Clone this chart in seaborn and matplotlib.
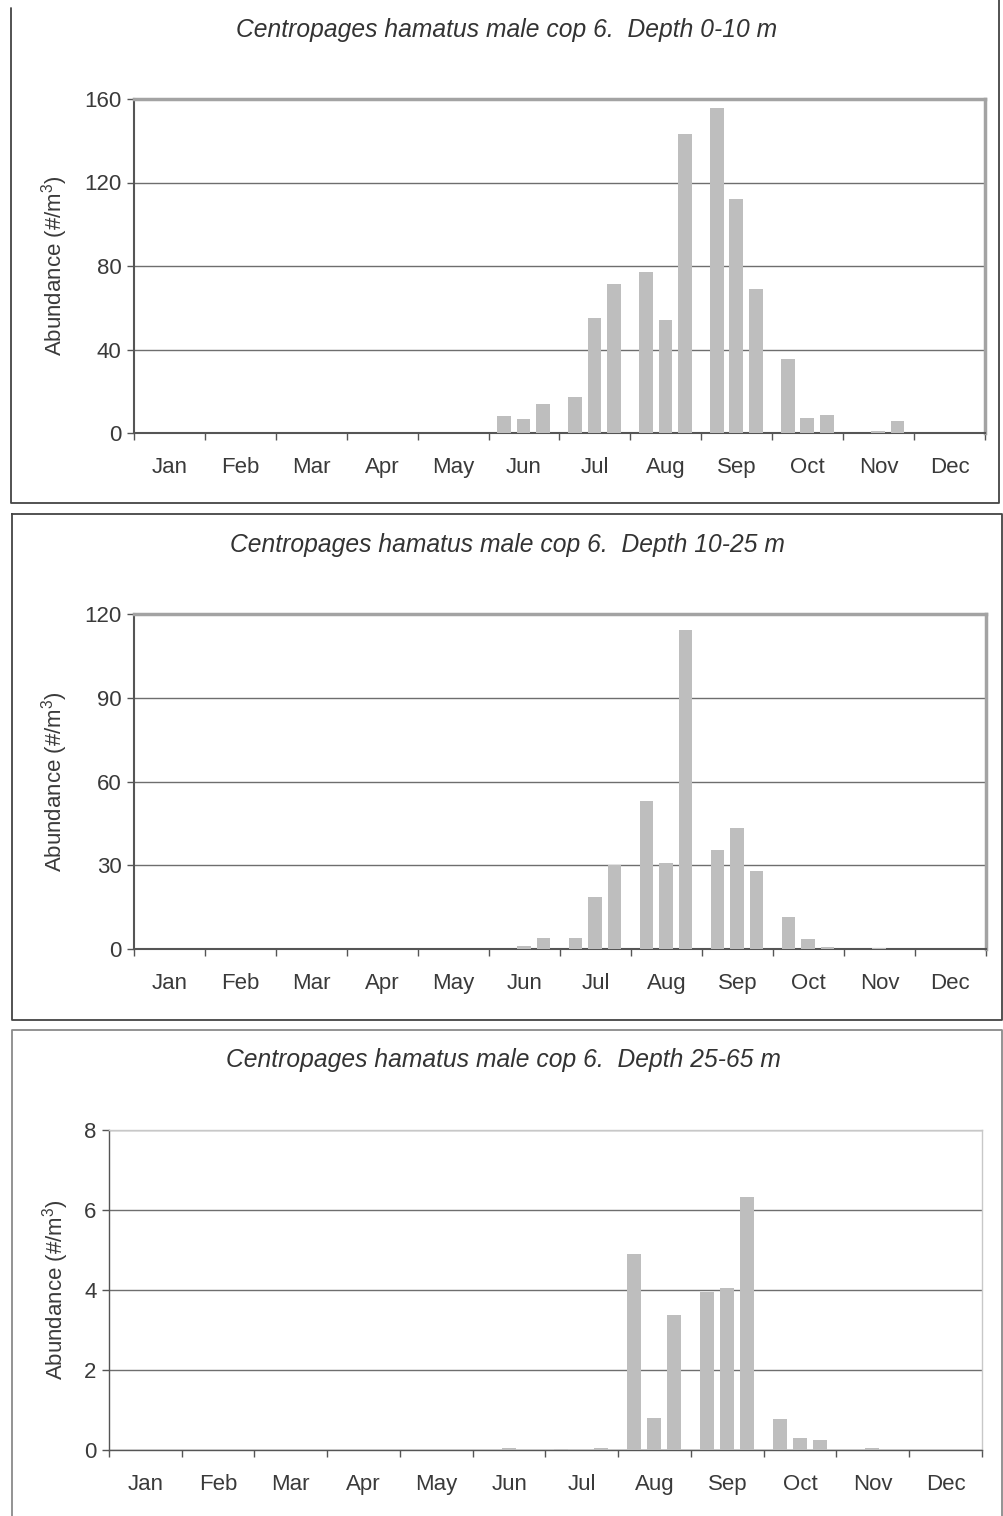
import numpy as np
import pandas as pd
import matplotlib
matplotlib.use("Agg")
import matplotlib.pyplot as plt
from matplotlib.lines import Line2D
import seaborn as sns

# ---------------- data ----------------
months = ["Jan", "Feb", "Mar", "Apr", "May", "Jun",
          "Jul", "Aug", "Sep", "Oct", "Nov", "Dec"]
# three sampling dates per month, as a fraction of the month
sample_frac = [0.218, 0.493, 0.768]

# abundance (#/m3), 3 samples per month, Jan..Dec
depth_0_10 = [0, 0, 0,  0, 0, 0,  0, 0, 0,  0, 0, 0,  0, 0, 0,
              8.3, 6.9, 13.9,
              17.3, 55.0, 71.6,
              77.2, 54.3, 143.4,
              155.9, 112.3, 69.2,
              35.6, 7.1, 8.5,
              0, 1.1, 5.9,
              0, 0, 0]
depth_10_25 = [0, 0, 0,  0, 0, 0,  0, 0, 0,  0, 0, 0,  0, 0, 0,
               0, 1.1, 3.9,
               3.9, 18.7, 30.1,
               52.9, 30.9, 114.3,
               35.5, 43.3, 27.9,
               11.3, 3.7, 0.7,
               0, 0.5, 0,
               0, 0, 0]
depth_25_65 = [0, 0, 0,  0, 0, 0,  0, 0, 0,  0, 0, 0,  0, 0, 0,
               0, 0.04, 0,
               0.02, 0, 0.04,
               4.91, 0.80, 3.38,
               3.94, 4.04, 6.32,
               0.78, 0.30, 0.24,
               0, 0.04, 0,
               0, 0, 0]

titles = ["Centropages hamatus male cop 6.  Depth 0-10 m",
          "Centropages hamatus male cop 6.  Depth 10-25 m",
          "Centropages hamatus male cop 6.  Depth 25-65 m"]
yticks_list = [[0, 40, 80, 120, 160], [0, 30, 60, 90, 120], [0, 2, 4, 6, 8]]
series = [depth_0_10, depth_10_25, depth_25_65]

# ---------------- style ----------------
sns.set_style("white")
plt.rcParams["font.family"] = ["Liberation Sans", "DejaVu Sans"]
plt.rcParams["mathtext.fontset"] = "custom"
plt.rcParams["mathtext.rm"] = "Liberation Sans"
plt.rcParams["mathtext.default"] = "regular"

W, H = 1004, 1516
fig = plt.figure(figsize=(W / 100, H / 100), dpi=100)

# axes boxes in pixels: left, top, right, bottom
boxes = [(134, 99, 985, 433), (134, 614, 986, 949), (109, 1130, 982, 1450)]
title_cx = [507, 507, 503]
title_y = [30, 545, 1060]
ylabel_right = [70, 70, 71]

bar_col = "#bebebe"
txt_col = "#3a3a3a"
grid_col = "#6e6e6e"

x_pos = [m + f for m in range(12) for f in sample_frac]

for i in range(3):
    l, t, r, b = boxes[i]
    ax = fig.add_axes([l / W, 1 - b / H, (r - l) / W, (b - t) / H])
    df = pd.DataFrame({"x": x_pos, "y": series[i]})
    sns.barplot(data=df, x="x", y="y", native_scale=True, color=bar_col,
                saturation=1, width=0.70, errorbar=None, linewidth=0, ax=ax,
                zorder=3)
    yt = yticks_list[i]
    ax.set_ylim(0, yt[-1])
    ax.set_xlim(0, 12)
    ax.set_yticks(yt)
    ax.set_yticklabels([str(v) for v in yt])
    ax.set_xticks(np.arange(0, 13))
    ax.set_xticklabels([])
    ax.set_xticks(np.arange(12) + 0.5, minor=True)
    ax.set_xticklabels(months, minor=True)
    ax.tick_params(axis="x", which="major", direction="out", length=5,
                   width=1, color="#555555", bottom=True)
    ax.tick_params(axis="x", which="minor", length=0, pad=17,
                   labelsize=16, labelcolor=txt_col)
    ax.tick_params(axis="y", direction="out", length=5, width=1,
                   color="#555555", left=True, labelsize=16,
                   labelcolor=txt_col, pad=4)
    ax.set_xlabel("")
    ax.set_ylabel(r"Abundance (#/m$^3$)", fontsize=16, color=txt_col)
    ax.yaxis.set_label_coords((ylabel_right[i] - l) / (r - l), 0.5)
    ax.yaxis.grid(True, color=grid_col, lw=1)
    ax.xaxis.grid(False)
    ax.set_axisbelow(True)
    ax.set_facecolor("white")
    if i < 2:
        for side in ["top", "right"]:
            ax.spines[side].set_color("#a3a3a3")
            ax.spines[side].set_linewidth(2.5)
        for side in ["left", "bottom"]:
            ax.spines[side].set_color("#555555")
            ax.spines[side].set_linewidth(1.5)
    else:
        for side in ["top", "right"]:
            ax.spines[side].set_color("#c8c8c8")
            ax.spines[side].set_linewidth(1)
        for side in ["left", "bottom"]:
            ax.spines[side].set_color("#555555")
            ax.spines[side].set_linewidth(1)
    for s in ax.spines.values():
        s.set_visible(True)

    fig.text(title_cx[i] / W, 1 - title_y[i] / H, titles[i],
             ha="center", va="center", fontsize=17.7,
             style="italic", color="#333333")


def frame_line(pts, col, lw=1.3):
    xs = [p[0] / W for p in pts]
    ys = [1 - p[1] / H for p in pts]
    fig.add_artist(Line2D(xs, ys, transform=fig.transFigure, color=col, lw=lw))


# panel frames
frame_line([(11, 8), (11, 503), (999, 503), (999, 0)], "#444444")
frame_line([(12, 514), (12, 1020), (1002, 1020), (1002, 514), (12, 514)], "#444444")
frame_line([(12, 1530), (12, 1030), (1002, 1030), (1002, 1530)], "#8a8a8a")

fig.savefig("out.png", dpi=100, facecolor="white")
